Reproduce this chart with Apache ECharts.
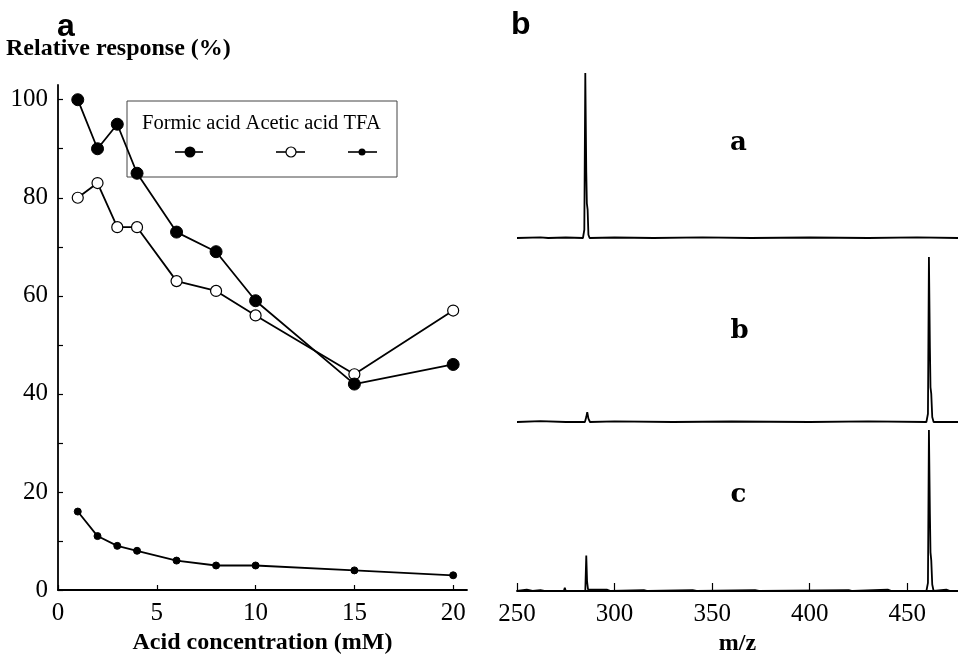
<!DOCTYPE html>
<html><head><meta charset="utf-8">
<script src="https://cdn.jsdelivr.net/npm/echarts@6/dist/echarts.min.js"></script>
<style>html,body{margin:0;padding:0;background:#fff}#c{width:958px;height:654px}</style>
</head><body><div id="c"></div>
<script>
// ---- Panel a data ----
const conc = [1, 2, 3, 4, 6, 8, 10, 15, 20];
const formic = [100, 90, 95, 85, 73, 69, 59, 42, 46];
const acetic = [80, 83, 74, 74, 63, 61, 56, 44, 57];
const tfa = [16, 11, 9, 8, 6, 5, 5, 4, 3];
const xTicksA = [0, 5, 10, 15, 20];
const yTicksA = [0, 20, 40, 60, 80, 100];
const yMinorA = [0, 10, 20, 30, 40, 50, 60, 70, 80, 90, 100];
// ---- Panel b data (m/z, relative intensity) ----
const specA = [[250,0],[262,0.4],[266,0],[275,0.3],[283.8,0],[284.5,5],[285.0,100],[285.5,40],[285.8,21],[286.2,17],[286.6,2],[287.2,0],[300,0.3],[320,0],[345,0.4],[370,0],[400,0.3],[430,0],[455,0.4],[476,0]];
const specB = [[250,0],[262,0.5],[275,0],[284.8,0],[285.5,3],[286.0,6],[286.6,2],[287.4,0],[300,0.4],[330,0],[360,0.3],[400,0],[430,0.4],[459.8,0],[460.6,5],[461.1,100],[461.6,45],[461.9,21],[462.3,17],[462.8,3],[463.5,0],[476,0]];
const specC = [[250,0],[255,0.8],[258,0],[262,0.5],[264,0],[274,0],[274.5,2],[275,0],[285.0,0],[285.5,22],[285.9,6],[286.4,1],[287.2,0],[296,0.8],[298,0],[315,0.6],[317,0],[340,0.5],[342,0],[372,0.5],[374,0],[420,0.6],[422,0],[440,0.8],[442,0],[459.8,0],[460.6,5],[461.1,100],[461.6,48],[461.9,24],[462.3,19],[462.8,4],[463.5,0],[470,0.8],[472,0],[476,0]];
const specNames = ['a', 'b', 'c'];
const xTicksB = [250, 300, 350, 400, 450];

const serif = 'Liberation Serif';
const chart = echarts.init(document.getElementById('c'));

function specSeries(data, idx) {
  return { type: 'line', xAxisIndex: idx + 1, yAxisIndex: idx + 1, data: data, symbol: 'none',
    lineStyle: { color: '#000', width: 1.8 }, animation: false, silent: true };
}
const gridsB = [
  { left: 517, right: 0, top: 73, bottom: 416, outerBoundsMode: 'none', containLabel: false },
  { left: 517, right: 0, top: 257, bottom: 232, outerBoundsMode: 'none', containLabel: false },
  { left: 517, right: 0, top: 430, bottom: 63, outerBoundsMode: 'none', containLabel: false }
];
const boldLabel = { fontFamily: serif, fontWeight: 'bold', fontSize: 24, color: '#000' };
const xAxesB = gridsB.map((g, i) => ({
  type: 'value', gridIndex: i + 1, min: 250, max: 476,
  axisLine: { show: i === 2, lineStyle: { color: '#000', width: 1.8 } },
  axisTick: { show: i === 2, inside: true, length: 8, customValues: xTicksB, lineStyle: { color: '#000', width: 1.2 } },
  axisLabel: { show: i === 2, customValues: xTicksB, margin: 11, fontFamily: serif, fontSize: 25, color: '#000' },
  splitLine: { show: false },
  name: i === 2 ? 'm/z' : '', nameLocation: 'middle', nameGap: 41, nameTextStyle: boldLabel
}));
const yAxesB = gridsB.map((g, i) => ({
  type: 'value', gridIndex: i + 1, min: 0, max: 100, show: false
}));

function txt(text, x, y, font, align) {
  return { type: 'text', x: x, y: y, style: { text: text, font: font, fill: '#000', align: align || 'left', verticalAlign: 'middle' }, z: 20 };
}

const option = {
  backgroundColor: '#fff',
  animation: false,
  grid: [{ left: 58, width: 409, top: 85, bottom: 64, outerBoundsMode: 'none', containLabel: false }].concat(gridsB),
  xAxis: [{
    type: 'value', gridIndex: 0, min: 0, max: 20.7,
    axisLine: { lineStyle: { color: '#000', width: 1.8 } },
    axisTick: { inside: true, length: 5, customValues: xTicksA, lineStyle: { color: '#000', width: 1.2 } },
    axisLabel: { customValues: xTicksA, margin: 11, fontFamily: serif, fontSize: 25, color: '#000' },
    splitLine: { show: false },
    name: 'Acid concentration (mM)', nameLocation: 'middle', nameGap: 40, nameTextStyle: boldLabel
  }].concat(xAxesB),
  yAxis: [{
    type: 'value', gridIndex: 0, min: 0, max: 103,
    axisLine: { show: true, lineStyle: { color: '#000', width: 1.8 } },
    axisTick: { show: true, inside: true, length: 5, customValues: yMinorA, lineStyle: { color: '#000', width: 1.2 } },
    axisLabel: { customValues: yTicksA, margin: 10, fontFamily: serif, fontSize: 25, color: '#000' },
    splitLine: { show: false }
  }].concat(yAxesB),
  graphic: [
    txt('a', 57, 27, 'bold 32px "Liberation Sans"'),
    txt('b', 511, 25, 'bold 32px "Liberation Sans"'),
    txt('Relative response (%)', 6, 49, 'bold 24px "Liberation Serif"'),
    txt(specNames[0], 738.5, 143, 'bold 26px "DejaVu Serif"', 'center'),
    txt(specNames[1], 739.5, 331, 'bold 26px "DejaVu Serif"', 'center'),
    txt(specNames[2], 738.5, 495, 'bold 26px "DejaVu Serif"', 'center'),
    { type: 'rect', shape: { x: 127, y: 101, width: 270, height: 76 }, style: { fill: 'none', stroke: '#444', lineWidth: 1 }, z: 1 },
    txt('Formic acid Acetic acid TFA', 142, 124, '20.5px "Liberation Serif"'),
    { type: 'line', shape: { x1: 175, y1: 152, x2: 203, y2: 152 }, style: { stroke: '#000', lineWidth: 1.6 }, z: 11 },
    { type: 'circle', shape: { cx: 190, cy: 152, r: 5.5 }, style: { fill: '#000' }, z: 12 },
    { type: 'line', shape: { x1: 276, y1: 152, x2: 305, y2: 152 }, style: { stroke: '#000', lineWidth: 1.6 }, z: 11 },
    { type: 'circle', shape: { cx: 291, cy: 152, r: 5 }, style: { fill: '#fff', stroke: '#000', lineWidth: 1.2 }, z: 12 },
    { type: 'line', shape: { x1: 348, y1: 152, x2: 377, y2: 152 }, style: { stroke: '#000', lineWidth: 1.6 }, z: 11 },
    { type: 'circle', shape: { cx: 362, cy: 152, r: 3.5 }, style: { fill: '#000' }, z: 12 }
  ],
  series: [
    { name: 'Acetic acid', type: 'line', xAxisIndex: 0, yAxisIndex: 0, data: conc.map((c, i) => [c, acetic[i]]),
      symbol: 'circle', symbolSize: 11, itemStyle: { color: '#fff', borderColor: '#000', borderWidth: 1.2 },
      lineStyle: { color: '#000', width: 1.8 }, z: 3 },
    { name: 'Formic acid', type: 'line', xAxisIndex: 0, yAxisIndex: 0, data: conc.map((c, i) => [c, formic[i]]),
      symbol: 'circle', symbolSize: 12, itemStyle: { color: '#000', borderColor: '#000' },
      lineStyle: { color: '#000', width: 1.8 }, z: 4 },
    { name: 'TFA', type: 'line', xAxisIndex: 0, yAxisIndex: 0, data: conc.map((c, i) => [c, tfa[i]]),
      symbol: 'circle', symbolSize: 7, itemStyle: { color: '#000', borderColor: '#000' },
      lineStyle: { color: '#000', width: 1.8 }, z: 3 },
    specSeries(specA, 0), specSeries(specB, 1), specSeries(specC, 2)
  ]
};
chart.setOption(option);
</script></body></html>
